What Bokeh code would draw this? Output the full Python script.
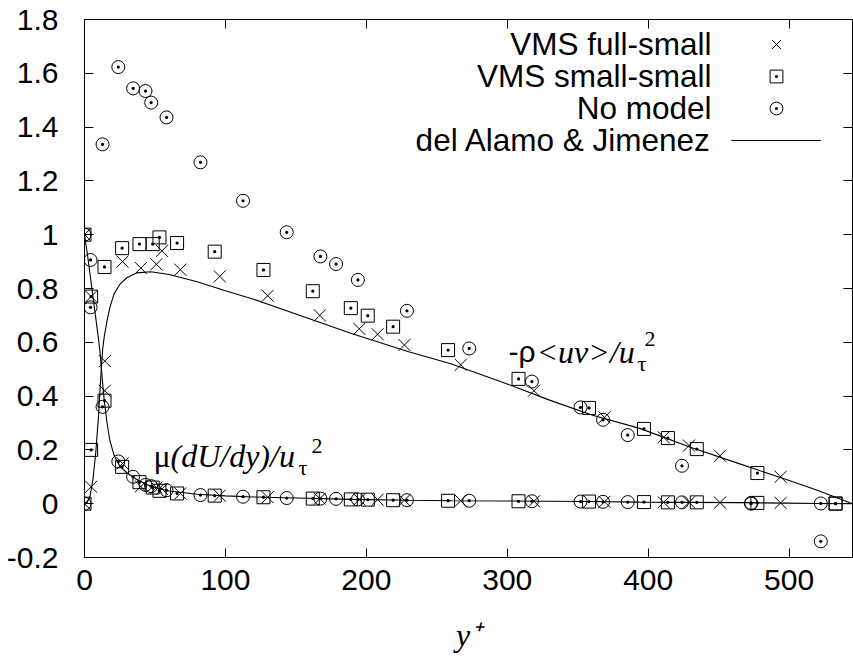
from bokeh.plotting import figure
from bokeh.models import Range1d, LinearAxis, Label, Legend, LegendItem, FixedTicker
from bokeh.core.properties import value
from bokeh.embed import file_html
from bokeh.resources import INLINE

# ---------------- data ----------------
# VMS full-small (crosses)
fs_y = [0, 4.7, 14.4, 27, 40, 51, 55, 68, 96, 130, 167, 195, 208, 227, 267, 319, 369, 411, 429, 451, 494]
fs_rs = [0.0, 0.063, 0.42, 0.90, 0.876, 0.89, 0.94, 0.87, 0.845, 0.773, 0.70, 0.65, 0.63, 0.59, 0.516,
         0.42, 0.321, 0.247, 0.216, 0.178, 0.10]
fs_vs = [1.0, 0.77, 0.53, 0.15, 0.064, 0.06, 0.055, 0.038, 0.03, 0.024, 0.019, 0.016, 0.015, 0.013, 0.011,
         0.009, 0.007, 0.005, 0.005, 0.004, 0.003]

# VMS small-small (squares)
ss_y = [0, 4.7, 14.2, 26.7, 39, 48.4, 53.2, 65.7, 92.4, 127, 162, 189, 201, 219, 258, 308, 358, 397, 414,
        434.5, 477.5, 533]
ss_rs = [0.0, 0.2, 0.88, 0.95, 0.965, 0.965, 0.99, 0.969, 0.937, 0.869, 0.79, 0.727, 0.699, 0.658, 0.571,
         0.464, 0.356, 0.278, 0.244, 0.203, 0.114, 0.0]
ss_vs = [1.0, 0.77, 0.383, 0.137, 0.08, 0.06, 0.048, 0.038, 0.03, 0.024, 0.019, 0.016, 0.015, 0.013, 0.011,
         0.009, 0.008, 0.006, 0.005, 0.005, 0.003, 0.001]

# No model (circles)
nm_y = [0, 4.3, 12.8, 24, 34.5, 43.3, 47.3, 58.2, 82.3, 112.5, 143.5, 167.4, 178.5, 194, 228.8, 273, 317.5,
        352, 368, 385.5, 424, 473, 522.5]
nm_rs = [0.0, 0.73, 1.336, 1.623, 1.544, 1.534, 1.491, 1.436, 1.269, 1.126, 1.009, 0.919, 0.891, 0.832,
         0.717, 0.577, 0.454, 0.358, 0.312, 0.255, 0.141, 0.0, -0.14]
nm_vs = [1.0, 0.906, 0.36, 0.157, 0.10, 0.07, 0.065, 0.05, 0.032, 0.026, 0.021, 0.019, 0.018, 0.016, 0.013,
         0.011, 0.009, 0.008, 0.007, 0.006, 0.005, 0.003, 0.001]

# del Alamo & Jimenez (DNS reference curves)
dns_y = [0, 2, 4, 6, 8, 10, 11, 12, 13, 14, 16, 18, 21, 25, 30, 37, 47, 60, 80, 100, 120, 150, 190, 230,
         260, 300, 330, 360, 394, 430, 465, 498, 520, 545]
dns_rs = [0.0, 0.005, 0.03, 0.09, 0.19, 0.33, 0.42, 0.51, 0.58, 0.62, 0.68, 0.73, 0.78, 0.815, 0.84, 0.858,
          0.862, 0.852, 0.825, 0.792, 0.76, 0.705, 0.632, 0.565, 0.52, 0.445, 0.385, 0.33, 0.28, 0.21,
          0.148, 0.09, 0.05, 0.0]
dns_vs = [1.0, 0.93, 0.85, 0.77, 0.69, 0.61, 0.565, 0.5, 0.44, 0.385, 0.3, 0.235, 0.18, 0.14, 0.115, 0.09,
          0.065, 0.047, 0.035, 0.029, 0.025, 0.021, 0.016, 0.013, 0.011, 0.01, 0.009, 0.008, 0.006, 0.005,
          0.004, 0.002, 0.001, 0.0]

legend_labels = ["VMS full-small", "VMS small-small", "No model", "del Alamo & Jimenez"]
x_ticks = [0, 100, 200, 300, 400, 500]
y_ticks = [-0.2, 0.0, 0.2, 0.4, 0.6, 0.8, 1.0, 1.2, 1.4, 1.6, 1.8]
y_tick_labels = ["-0.2", "0", "0.2", "0.4", "0.6", "0.8", "1", "1.2", "1.4", "1.6", "1.8"]

# ---------------- figure ----------------
SANS = "Liberation Sans"
SERIF = "Liberation Serif"
FL, FT, FR, FB = 84, 19, 852, 557   # frame edges in page pixels (for annotation placement)

p = figure(width=853, height=661, output_backend="svg", toolbar_location=None,
           x_range=Range1d(0, 545), y_range=Range1d(-0.2, 1.8),
           min_border_left=FL, min_border_right=1, min_border_top=FT, min_border_bottom=661 - FB)
p.background_fill_color = "white"
p.border_fill_color = "white"
p.outline_line_color = "black"
p.outline_line_width = 1
p.grid.visible = False

for ax in (p.xaxis[0], p.yaxis[0]):
    ax.major_tick_in = 9
    ax.major_tick_out = 0
    ax.minor_tick_in = 0
    ax.minor_tick_out = 0
    ax.axis_line_color = "black"
    ax.major_tick_line_color = "black"
    ax.major_label_text_font = SANS
    ax.major_label_text_font_size = "30px"
    ax.major_label_text_color = "black"

p.xaxis.ticker = FixedTicker(ticks=x_ticks)
p.yaxis.ticker = FixedTicker(ticks=y_ticks)
p.yaxis.major_label_overrides = dict(zip(y_ticks, y_tick_labels))
p.xaxis.major_label_standoff = 12
p.yaxis.major_label_standoff = 26

p.xaxis.axis_label = "y\u207a"
p.xaxis.axis_label_text_font = SERIF
p.xaxis.axis_label_text_font_style = "italic"
p.xaxis.axis_label_text_font_size = "32px"
p.xaxis.axis_label_text_color = "black"
p.xaxis.axis_label_standoff = 24

# mirrored ticks (top / right), no labels
for loc, tk in (("right", y_ticks), ("above", x_ticks)):
    ax = LinearAxis(ticker=FixedTicker(ticks=tk), major_tick_in=9, major_tick_out=0,
                    minor_tick_in=0, minor_tick_out=0, major_label_text_font_size="10px",
                    major_label_overrides={t: "" for t in tk},
                    major_label_standoff=0, axis_line_color=None)
    p.add_layout(ax, loc)

common = dict(line_color="black", fill_color=None, line_width=1)
r_fs = p.scatter(fs_y, fs_rs, marker="x", size=17, **common)
p.scatter(fs_y, fs_vs, marker="x", size=17, **common)
r_ss = p.scatter(ss_y, ss_rs, marker="square_dot", size=13, **common)
p.scatter(ss_y, ss_vs, marker="square_dot", size=13, **common)
r_nm = p.scatter(nm_y, nm_rs, marker="circle_dot", size=13, **common)
p.scatter(nm_y, nm_vs, marker="circle_dot", size=13, **common)
r_dns = p.line(dns_y, dns_rs, line_color="black", line_width=1.1)
p.line(dns_y, dns_vs, line_color="black", line_width=1.1)

# legend: glyph samples on the right, labels right-aligned on the left
row_h = 32
rows_y = [43.5, 75.5, 107.5, 139.5]
legend = Legend(items=[LegendItem(label=value(""), renderers=[r]) for r in (r_fs, r_ss, r_nm, r_dns)],
                location=(731 - FL, FB - (rows_y[-1] + row_h / 2)),
                glyph_width=90, glyph_height=row_h, label_height=row_h, label_width=0,
                label_standoff=0, label_text_font_size="10px", spacing=0, padding=0, margin=0,
                border_line_color=None, background_fill_alpha=0)
p.add_layout(legend, "center")
for txt, ry in zip(legend_labels, rows_y):
    p.add_layout(Label(x=711 - FL, y=FB - ry, x_units="screen", y_units="screen", text=txt,
                       text_font=SANS, text_font_size="31.5px", text_align="right",
                       text_baseline="middle", text_color="black"))


def lab(text, px, py, font, size, style="normal"):
    p.add_layout(Label(x=px - FL, y=FB - py, x_units="screen", y_units="screen", text=text,
                       text_font=font, text_font_size=size, text_font_style=style,
                       text_align="left", text_baseline="alphabetic", text_color="black"))


# -rho<uv>/u_tau^2
lab("-ρ", 508, 351, SANS, "30px")
lab("<uv>/u", 536, 351, SERIF, "32px", "italic")
lab("τ", 637, 363, SERIF, "22px")
lab("2", 644, 338, SERIF, "22px")
# mu(dU/dy)/u_tau^2
lab("μ", 153, 455, SERIF, "32px")
lab("(dU/dy)/u", 170, 455, SERIF, "32px", "italic")
lab("τ", 298, 467, SERIF, "22px")
lab("2", 311, 445, SERIF, "22px")

open("out.html", "w").write(file_html(p, INLINE))
